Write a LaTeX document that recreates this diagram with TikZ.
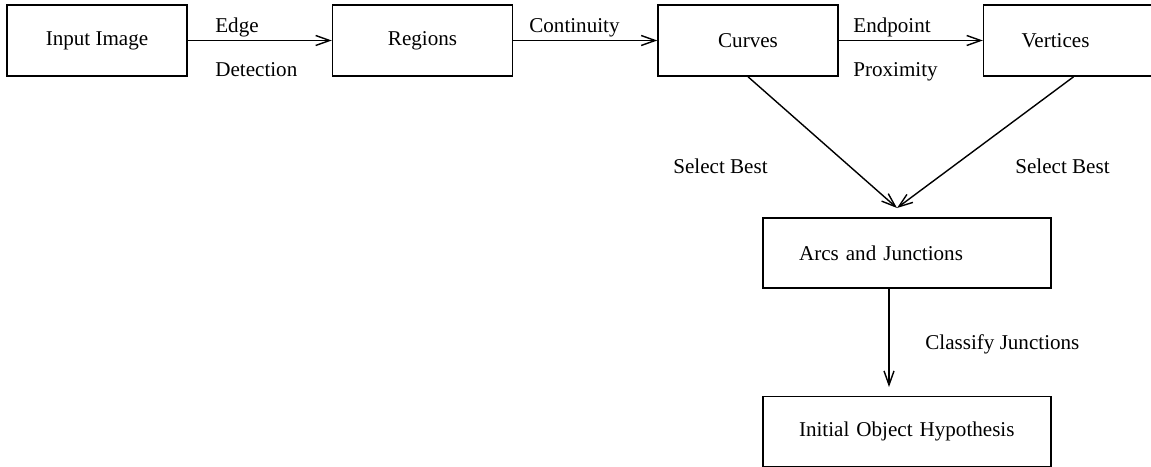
\documentclass[tikz,border=0pt]{standalone}
\usepackage{fontspec}
\setmainfont{Liberation Serif}
\usetikzlibrary{positioning,arrows.meta}

\begin{document}
\begin{tikzpicture}[x=0.02cm, y=-0.02cm,
  every node/.style={font=\fontsize{12}{14}\selectfont},
  Bx/.style={draw, line width=0.9pt, minimum width=3.6cm, minimum height=1.42cm, inner sep=0cm},
  Wb/.style={draw, line width=0.9pt, minimum width=5.76cm, minimum height=1.4cm,
    text width=4.32cm, align=left, inner xsep=0.72cm, inner ysep=0cm},
  Lb/.style={anchor=base west, inner sep=0cm},
  ar/.style={line width=0.8pt, -{Straight Barb[length=2.8mm, width=2mm]}}]
  \useasboundingbox (0,0) rectangle (1151,466);

\node[Bx] at (97,40.5) (inp) {Input Image};
\node[Bx, right=2.88cm of inp] (reg) {Regions};
\node[Bx, right=2.88cm of reg] (cur) {Curves};
\node[Bx, right=2.88cm of cur, text width=2.08cm, align=left, inner xsep=0.76cm] (ver) {Vertices};
\node[Wb] at (907,253) (arc) {Arcs and Junctions};
\node[Wb, below=2.14cm of arc] (hyp) {Initial Object Hypothesis};

\coordinate (m) at (897,208);
\coordinate (c) at (889,387);

\draw[ar] (inp) -- (reg);
\draw[ar] (reg) -- (cur);
\draw[ar] (cur) -- (ver);
\draw[ar] (cur.south) -- (m);
\draw[ar] (ver.south) -- (m);
\draw[ar] (arc.south -| c) -- (c);

\node[Lb] at (215,33) (e1) {Edge};
\node[Lb] at (215,76) (e2) {Detection};
\node[Lb] at (529,33) (e3) {Continuity};
\node[Lb] at (853,33) (e4) {Endpoint};
\node[Lb] at (853,76) (e5) {Proximity};
\node[Lb] at (673,173) (s1) {Select Best};
\node[Lb] at (1015,173) (s2) {Select Best};
\node[Lb] at (925,349) (cl) {Classify Junctions};

\end{tikzpicture}
\end{document}
